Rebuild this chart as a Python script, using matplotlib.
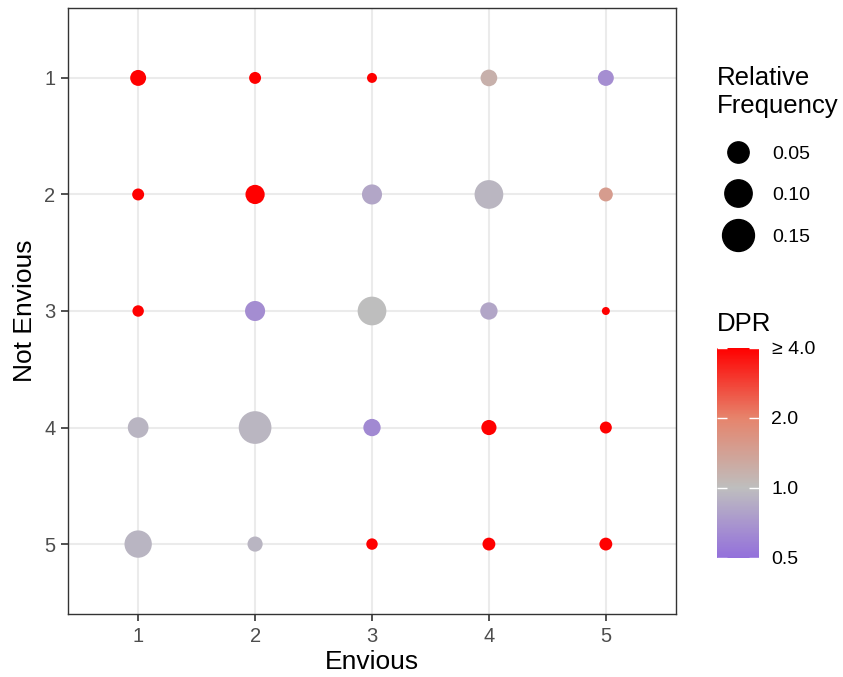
import numpy as np
import matplotlib
matplotlib.use("Agg")
import matplotlib.pyplot as plt
from matplotlib.colors import LinearSegmentedColormap, LogNorm
from matplotlib.lines import Line2D
import matplotlib.colorbar as mcolorbar

plt.rcParams['font.family'] = ['Liberation Sans', 'DejaVu Sans']

# grid of answers
envious = [1, 2, 3, 4, 5]
not_envious = [1, 2, 3, 4, 5]

# relative frequency, rows = Not Envious 1..5, cols = Envious 1..5
rel_freq = [
    [0.021, 0.009, 0.006, 0.024, 0.021],
    [0.009, 0.037, 0.042, 0.114, 0.014],
    [0.008, 0.042, 0.114, 0.027, 0.005],
    [0.046, 0.160, 0.027, 0.018, 0.009],
    [0.100, 0.018, 0.008, 0.011, 0.011],
]

# DPR (capped at 4 in the colour scale)
dpr = [
    [5.0, 5.0, 5.0, 1.18, 0.66],
    [5.0, 5.0, 0.82, 0.93, 1.5],
    [5.0, 0.65, 1.0, 0.82, 5.0],
    [0.92, 0.93, 0.63, 5.0, 5.0],
    [0.92, 0.92, 5.0, 5.0, 5.0],
]

size_breaks = [0.05, 0.10, 0.15]
dpr_breaks = [0.5, 1.0, 2.0, 4.0]
dpr_labels = ['0.5', '1.0', '2.0', '\u2265 4.0']

DPI = 100
fmin, fmax = 0.005, 0.16


def marker_area(f):
    # ggplot style area scaling: diameter in px, returned as pt^2
    f = np.clip(np.asarray(f, dtype=float), fmin, fmax)
    d_px = 8 + 24.7 * np.sqrt((f - fmin) / (fmax - fmin))
    return (d_px * 72 / DPI) ** 2


cmap = LinearSegmentedColormap.from_list(
    'dpr', [(0.0, '#9370DB'), (1 / 6, '#A996CE'), (1 / 3, '#BEBEBE'),
            (2 / 3, '#E6846C'), (1.0, '#FF0000')])
norm = LogNorm(vmin=0.5, vmax=4.0, clip=True)

fig = plt.figure(figsize=(843 / DPI, 677 / DPI), dpi=DPI)
ax = fig.add_axes([68 / 843, 1 - 614 / 677, 608 / 843, 606 / 677])

xx, yy = np.meshgrid(envious, not_envious)
ax.scatter(xx.ravel(), yy.ravel(), s=marker_area(np.ravel(rel_freq)),
           c=np.clip(np.ravel(dpr), 0.5, 4.0), cmap=cmap, norm=norm,
           linewidths=0, zorder=3)

ax.set_xlim(0.4, 5.6)
ax.set_ylim(5.6, 0.4)
ax.set_xticks(envious)
ax.set_yticks(not_envious)
ax.grid(True, color='#EBEBEB', linewidth=1.5, zorder=0)
ax.set_axisbelow(True)
for sp in ax.spines.values():
    sp.set_color('#333333')
    sp.set_linewidth(1.0)
ax.tick_params(length=5, width=1.2, color='#333333', labelcolor='#4D4D4D',
               labelsize=14.5, pad=4)
ax.set_xlabel('Envious', fontsize=19, labelpad=3.5)
ax.set_ylabel('Not Envious', fontsize=19, labelpad=5)

# size legend
handles = [Line2D([], [], linestyle='none', marker='o', color='black',
                  markersize=np.sqrt(marker_area(b))) for b in size_breaks]
leg = fig.legend(handles, ['%.2f' % b for b in size_breaks],
                 title='Relative\nFrequency', loc='upper left',
                 bbox_to_anchor=(709 / 843, 1 - 58 / 677), frameon=False,
                 fontsize=14, title_fontsize=18.5, labelspacing=1.22,
                 handlelength=2.16, handletextpad=0.67, borderaxespad=0)
leg._legend_box.align = 'left'
leg._legend_box.sep = 20

# colour bar
cax = fig.add_axes([717 / 843, 1 - 558 / 677, 42 / 843, 210 / 677])
cb = mcolorbar.ColorbarBase(cax, cmap=cmap, norm=norm, orientation='vertical')
cb.outline.set_visible(False)
cb.set_ticks(dpr_breaks)
cb.set_ticklabels(dpr_labels)
cax.minorticks_off()
cax.tick_params(which='major', direction='in', length=7, width=1.0,
                color='white', left=True, right=True, labelleft=False,
                labelright=True, labelsize=14, pad=9)
cax.set_title('DPR', fontsize=18.5, loc='left', pad=12)

fig.savefig('out.png', dpi=DPI)
